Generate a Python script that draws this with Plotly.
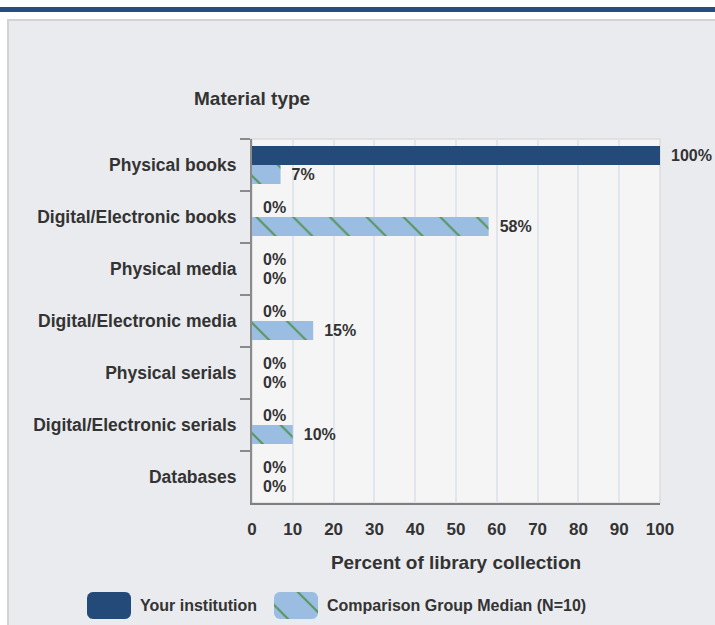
import numpy as np
import plotly.graph_objects as go

# ---- data -------------------------------------------------------------
categories = [
    "Physical books",
    "Digital/Electronic books",
    "Physical media",
    "Digital/Electronic media",
    "Physical serials",
    "Digital/Electronic serials",
    "Databases",
]
your_institution = [100, 0, 0, 0, 0, 0, 0]
comparison_median = [7, 58, 0, 15, 0, 10, 0]
series_names = ["Your institution", "Comparison Group Median (N=10)"]
x_ticks = [0, 10, 20, 30, 40, 50, 60, 70, 80, 90, 100]

# ---- styling ----------------------------------------------------------
W, H = 715, 625
FONT = "Liberation Sans, Arial, Helvetica, sans-serif"
TEXT = "#333333"
NAVY = "#234A78"
LIGHT = "#9CBDE2"
HATCH = "#4A8E43"
PANEL = "#EAEBEF"
PLOT_BG = "#F5F5F5"
GRID = "#E1E5EE"
AXIS = "#8A8A8A"


def px_x(p):
    return p / W


def px_y(p):
    return 1 - p / H


def rounded_rect(x0, y0, x1, y1, r, n=8):
    """Outline of a rounded rectangle (pixel units) as x/y lists."""
    xs, ys = [], []
    corners = [
        (x1 - r, y0 + r, -np.pi / 2, 0),
        (x1 - r, y1 - r, 0, np.pi / 2),
        (x0 + r, y1 - r, np.pi / 2, np.pi),
        (x0 + r, y0 + r, np.pi, 3 * np.pi / 2),
    ]
    for cx, cy, a0, a1 in corners:
        t = np.linspace(a0, a1, n)
        xs.extend(cx + r * np.cos(t))
        ys.extend(cy + r * np.sin(t))
    xs.append(xs[0])
    ys.append(ys[0])
    return xs, ys


x_dom = [px_x(252), px_x(660)]
y_dom = [px_y(503), px_y(139)]

hatch = dict(shape="\\", fgcolor=HATCH, bgcolor=LIGHT, size=26,
             solidity=0.08, fgopacity=0.85, fillmode="replace")

fig = go.Figure()

fig.add_trace(go.Bar(
    name=series_names[0], y=categories, x=your_institution, orientation="h",
    marker=dict(color=NAVY, line=dict(width=0)),
    texttemplate="\u2002%{x}%", textposition="outside", cliponaxis=False,
    constraintext="none",
    textfont=dict(family=FONT, size=16, color=TEXT, weight="bold"),
    showlegend=False, hoverinfo="x+name",
))
fig.add_trace(go.Bar(
    name=series_names[1], y=categories, x=comparison_median, orientation="h",
    marker=dict(color=LIGHT, pattern=hatch, line=dict(width=0)),
    texttemplate="\u2002%{x}%", textposition="outside", cliponaxis=False,
    constraintext="none",
    textfont=dict(family=FONT, size=16, color=TEXT, weight="bold"),
    showlegend=False, hoverinfo="x+name",
))

# legend keys: rounded swatches on a hidden pixel-unit axis
key_boxes = [(87, 592, 131, 619), (274, 592, 318, 619)]
key_fill = [dict(fillcolor=NAVY), dict(fillcolor=LIGHT, fillpattern=hatch)]
for (x0, y0, x1, y1), fill in zip(key_boxes, key_fill):
    kx, ky = rounded_rect(x0, y0, x1, y1, 6)
    fig.add_trace(go.Scatter(
        x=kx, y=ky, mode="lines", fill="toself", line=dict(width=0),
        xaxis="x2", yaxis="y2", showlegend=False, hoverinfo="skip", **fill,
    ))

shapes = [
    # top accent band
    dict(type="rect", xref="paper", yref="paper", x0=0, x1=1,
         y0=px_y(12), y1=px_y(7), fillcolor="#274E7A", line=dict(width=0),
         layer="below"),
    # grey panel
    dict(type="rect", xref="paper", yref="paper", x0=px_x(8), x1=1.02,
         y0=-0.02, y1=px_y(20), fillcolor=PANEL,
         line=dict(color="#D2D3D6", width=2), layer="below"),
    # plot area background with a faint frame
    dict(type="rect", xref="paper", yref="paper", x0=x_dom[0], x1=x_dom[1],
         y0=y_dom[0], y1=y_dom[1], fillcolor=PLOT_BG,
         line=dict(color="#DCDCDC", width=1.5), layer="below"),
]

annotations = [
    dict(text="<b>Material type</b>", xref="paper", yref="paper",
         x=px_x(252), y=px_y(98), xanchor="center", yanchor="middle",
         showarrow=False, font=dict(family=FONT, size=19, color=TEXT)),
    dict(text="<b>" + series_names[0] + "</b>", xref="paper", yref="paper",
         x=px_x(138), y=px_y(605), xanchor="left", yanchor="middle",
         showarrow=False, font=dict(family=FONT, size=16, color=TEXT)),
    dict(text="<b>" + series_names[1] + "</b>", xref="paper", yref="paper",
         x=px_x(325), y=px_y(605), xanchor="left", yanchor="middle",
         showarrow=False, font=dict(family=FONT, size=16, color=TEXT)),
]

fig.update_layout(
    width=W, height=H,
    margin=dict(l=0, r=0, t=0, b=0, autoexpand=False),
    paper_bgcolor="white", plot_bgcolor="rgba(0,0,0,0)",
    barmode="group", bargap=0.27, bargroupgap=0,
    font=dict(family=FONT, color=TEXT),
    shapes=shapes, annotations=annotations,
    xaxis=dict(
        domain=x_dom, range=[0, 100], tickvals=x_ticks,
        showgrid=True, gridcolor=GRID, gridwidth=2, zeroline=False,
        showline=True, linecolor="#7F7F7F", linewidth=2,
        ticks="", ticklabelstandoff=10, automargin=False,
        tickfont=dict(family=FONT, size=17, color=TEXT, weight="bold"),
        title=dict(text="<b>Percent of library collection</b>", standoff=17,
                   font=dict(family=FONT, size=19, color=TEXT)),
        fixedrange=True,
    ),
    yaxis=dict(
        domain=y_dom, autorange="reversed", categoryorder="array",
        categoryarray=categories, tickson="boundaries",
        showgrid=False, zeroline=False,
        showline=True, linecolor=AXIS, linewidth=2,
        ticks="outside", ticklen=10, tickwidth=2, tickcolor=AXIS,
        ticklabelstandoff=10, automargin=False,
        tickfont=dict(family=FONT, size=17.5, color=TEXT, weight="bold"),
        fixedrange=True,
    ),
    # hidden helper axes spanning the page in pixel units
    xaxis2=dict(domain=[0, 1], range=[0, W], visible=False, anchor="y2",
                fixedrange=True),
    yaxis2=dict(domain=[0, 1], range=[H, 0], visible=False, anchor="x2",
                fixedrange=True),
)

fig.write_html("out.html")
